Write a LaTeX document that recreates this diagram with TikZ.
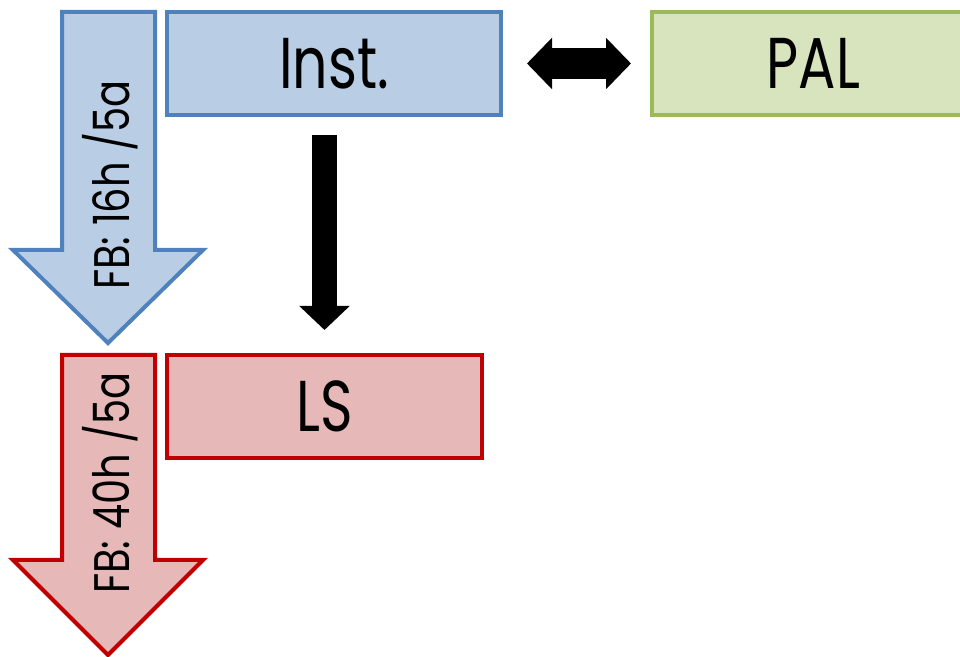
\documentclass[tikz,border=0pt]{standalone}
\usepackage{graphicx}
\usepackage{fontspec}
\setmainfont{Poppins}
\usetikzlibrary{arrows.meta}
\definecolor{instfill}{HTML}{B9CDE5}
\definecolor{instdraw}{HTML}{4F81BD}
\definecolor{lsfill}{HTML}{E6B9B8}
\definecolor{lsdraw}{HTML}{C00000}
\definecolor{palfill}{HTML}{D7E4BD}
\definecolor{paldraw}{HTML}{9BBB59}

\begin{document}
\begin{tikzpicture}[x=0.5pt, y=-0.5pt,
  box/.style={rectangle, line width=2pt, minimum height=51.5pt, inner sep=0pt, font=\fontsize{36}{40}\selectfont},
  blockarrow/.style={line width=2pt, line join=miter, miter limit=10},
  fbtext/.style={rotate=90, inner sep=0pt, font=\fontsize{25}{28}\selectfont},
  fatarrow/.style={line width=12.5pt, -{Triangle[width=24.5pt, length=12pt]}},
  fatdouble/.style={line width=15.5pt, {Triangle[width=25pt, length=12.5pt]}-{Triangle[width=25pt, length=12.5pt]}}
  ]
  \useasboundingbox (0,0) rectangle (960,657);
  \fill[white] (0,0) rectangle (960,657);
  \node[box, fill=instfill, draw=instdraw, minimum width=167pt] (inst) at (334,63.5) {\scalebox{0.77}[1]{Inst.}};
  \node[box, fill=palfill, draw=paldraw, minimum width=161.5pt] (pal) at (813.5,63.5) {\scalebox{0.77}[1]{PAL}};
  \node[box, fill=lsfill, draw=lsdraw, minimum width=157.5pt] (ls) at (324.5,406.5) {\scalebox{0.77}[1]{LS}};
  \draw[blockarrow, fill=instfill, draw=instdraw]
    (62,12) -- (155,12) -- (155,250) -- (203,250) -- (108,343) -- (13,250) -- (62,250) -- cycle;
  \draw[blockarrow, fill=lsfill, draw=lsdraw]
    (62,355) -- (155,355) -- (155,560) -- (203,560) -- (108,655) -- (13,560) -- (62,560) -- cycle;
  \node[fbtext] (fbinst) at (110,185) {\scalebox{0.8}[1]{FB: 16h /5a}};
  \node[fbtext] (fbls) at (110,483) {\scalebox{0.8}[1]{FB: 40h /5a}};
  \draw[fatarrow, shorten <=9pt, shorten >=11.5pt] (ls.north |- inst.south) -- (ls.north);
  \draw[fatdouble, shorten <=12pt, shorten >=9.5pt] (inst.east) -- (pal.west);
\end{tikzpicture}
\end{document}
